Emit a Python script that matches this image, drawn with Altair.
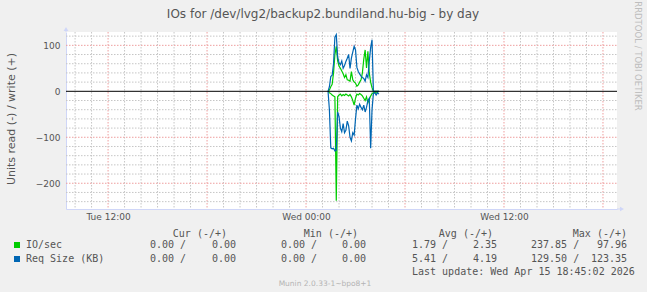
import altair as alt
import pandas as pd

# ---------------- data ----------------
times = ["01:20", "01:25", "01:30", "01:35", "01:40", "01:45", "01:50", "01:55",
         "02:00", "02:05", "02:10", "02:15", "02:20", "02:25", "02:30", "02:35",
         "02:40", "02:45", "02:50", "02:55", "03:00", "03:05", "03:10", "03:15",
         "03:20", "03:25", "03:30", "03:35", "03:40", "03:45", "03:50", "03:55",
         "04:00", "04:05", "04:10", "04:15", "04:20", "04:25"]
day = "2026-04-15"

io_write = [0, 3, 10, 15, 40, 80, 97.96, 66, 55, 50, 44, 38, 30, 36, 25, 24,
            22, 43, 25, 20, 18, 11, 14, 20, 25, 40, 70, 90, 51, 87, 40, 20,
            8, 0, 0, 0, 0, 0]
io_read = [0, 3, 5, 8, 10, 12, 237.85, 12, 8, 6, 10, 7, 9, 6, 8, 10,
           7, 12, 20, 30, 15, 6, 8, 5, 7, 10, 15, 20, 12, 25, 18, 10,
           5, 3, 2, 4, 2, 0]
size_write = [0, 10, 32, 35, 60, 118, 123.35, 75, 62, 58, 66, 50, 56, 65, 72, 80,
              50, 72, 85, 98, 90, 52, 43, 38, 33, 30, 28, 22, 36, 30, 65, 95,
              112, 0, 0, 0, 0, 0]
size_read = [0, 40, 123, 125, 124, 129.5, 128, 45, 55, 80, 88, 70, 90, 85, 65, 75,
             100, 108, 90, 95, 60, 30, 38, 28, 35, 40, 30, 45, 35, 20, 15, 124,
             40, 5, 3, 8, 3, 6]

series_names = ["IO/sec", "Req Size (KB)"]
series_colors = ["#00CC00", "#0066B3"]
cur_vals = [["0.00", "0.00"], ["0.00", "0.00"]]
min_vals = [["0.00", "0.00"], ["0.00", "0.00"]]
avg_vals = [["1.79", "2.35"], ["5.41", "4.19"]]
max_vals = [["237.85", "97.96"], ["129.50", "123.35"]]
col_headers = ["Cur (-/+)", "Min (-/+)", "Avg (-/+)", "Max (-/+)"]

y_ticks = [-200, -100, 0, 100]
y_minor_step = 20
y_domain = [-256, 129]
x_ticks = ["2026-04-14T12:00:00Z", "2026-04-15T00:00:00Z", "2026-04-15T12:00:00Z"]
x_domain = ["2026-04-14T09:27:00Z", "2026-04-15T18:51:00Z"]

title = "IOs for /dev/lvg2/backup2.bundiland.hu-big - by day"
y_title = "Units read (-) / write (+)"
last_update = "Last update: Wed Apr 15 18:45:02 2026"
footer = "Munin 2.0.33-1~bpo8+1"
watermark = "RRDTOOL / TOBI OETIKER"

# ---------------- layout ----------------
L, T, W, H = 66, 32, 551, 177
R, B = 647 - L - W, 292 - T - H

def ms(s):
    return int(pd.Timestamp(s).value // 10**6)

MINOR = "#C6C6C6"
MAJOR = "#EE9E9E"
AXISC = "#CFD6F8"
FONT = "#555555"

xs = alt.Scale(type="utc", domain=[ms(d) for d in x_domain])
ys = alt.Scale(domain=y_domain, nice=False, zero=False)
xa = alt.Axis(values=[ms(v) for v in x_ticks],
              labelExpr="utcFormat(datum.value, '%a %H:%M')",
              ticks=False, grid=False, domain=True, domainColor=AXISC,
              labelFont="DejaVu Sans", labelFontSize=9, labelColor=FONT,
              labelPadding=3, title=None, labelFlush=False)
ya = alt.Axis(values=y_ticks, ticks=False, grid=False, domain=True,
              domainColor=AXISC, labelFont="DejaVu Sans", labelFontSize=9,
              labelColor=FONT, labelPadding=6, title=None)

rows = []
for i, t in enumerate(times):
    ts = f"{day}T{t}:00Z"
    rows.append({"t": ts, "v": io_write[i], "k": "io_w", "g": 0})
    rows.append({"t": ts, "v": -io_read[i], "k": "io_r", "g": 0})
    rows.append({"t": ts, "v": size_write[i], "k": "sz_w", "g": 1})
    rows.append({"t": ts, "v": -size_read[i], "k": "sz_r", "g": 1})
df = pd.DataFrame(rows)

hours = pd.date_range("2026-04-14T10:00Z", "2026-04-15T18:00Z", freq="h")
grid_x = pd.DataFrame({"t": [h.strftime("%Y-%m-%dT%H:%M:%SZ") for h in hours],
                       "major": [h.hour % 6 == 0 for h in hours]})
yv = list(range(-240, 121, y_minor_step))
grid_y = pd.DataFrame({"v": yv, "major": [(v % 100 == 0) for v in yv]})
grid_y = grid_y[grid_y.v != 0]

X = lambda: alt.X("t:T", scale=xs, axis=xa)
Y = lambda: alt.Y("v:Q", scale=ys, axis=ya)

minor_x = alt.Chart(grid_x[~grid_x.major]).mark_rule(
    color=MINOR, strokeWidth=1, strokeDash=[1.5, 1.5]).encode(
    x=X(), y=alt.value(0), y2=alt.value(H))
major_x = alt.Chart(grid_x[grid_x.major]).mark_rule(
    color=MAJOR, strokeWidth=1, strokeDash=[1.5, 1.5]).encode(
    x=X(), y=alt.value(0), y2=alt.value(H))
minor_y = alt.Chart(grid_y[~grid_y.major]).mark_rule(
    color=MINOR, strokeWidth=1, strokeDash=[1.5, 1.5]).encode(
    y=Y(), x=alt.value(0), x2=alt.value(W))
major_y = alt.Chart(grid_y[grid_y.major]).mark_rule(
    color=MAJOR, strokeWidth=1, strokeDash=[1.5, 1.5]).encode(
    y=Y(), x=alt.value(0), x2=alt.value(W))

def series_layer(g):
    return alt.Chart(df[df.g == g]).mark_line(
        strokeWidth=1.2, color=series_colors[g]).encode(
        x=X(), y=Y(), detail="k:N")

zero = alt.Chart(alt.Data(values=[{"v": 0}])).mark_rule(
    color="black", strokeWidth=1).encode(
    y=Y(), x=alt.value(0), x2=alt.value(W))

def txt(s, px, py, align="left", size=10, font="DejaVu Sans Mono",
        color=FONT, angle=0):
    return alt.Chart(alt.Data(values=[{}])).mark_text(
        text=s, align=align, baseline="middle", font=font, fontSize=size,
        color=color, angle=angle).encode(
        x=alt.value(px - L), y=alt.value(py - T))

def square(color, px, py):
    return alt.Chart(alt.Data(values=[{}])).mark_square(
        size=36, color=color, opacity=1, filled=True).encode(
        x=alt.value(px - L), y=alt.value(py - T))

arrow_up = alt.Chart(alt.Data(values=[{}])).mark_point(
    shape="triangle-up", size=22, filled=True, color=AXISC, opacity=1).encode(
    x=alt.value(0), y=alt.value(-3))
arrow_right = alt.Chart(alt.Data(values=[{}])).mark_point(
    shape="triangle-right", size=22, filled=True, color=AXISC, opacity=1).encode(
    x=alt.value(W + 5), y=alt.value(H))
ext_up = alt.Chart(alt.Data(values=[{}])).mark_rule(color=AXISC).encode(
    x=alt.value(0), y=alt.value(-3), y2=alt.value(0))
ext_right = alt.Chart(alt.Data(values=[{}])).mark_rule(color=AXISC).encode(
    x=alt.value(W), x2=alt.value(W + 5), y=alt.value(H))

texts = [
    txt(title, 323, 14, align="center", size=12, font="DejaVu Sans"),
    txt(y_title, 12, 119, align="center", size=11, font="DejaVu Sans", angle=270),
    txt(watermark, 638, 56, align="center", size=8.5, font="DejaVu Sans",
        color="#BDBDBD", angle=90),
    txt(footer, 325, 284, align="center", size=7.5, font="DejaVu Sans",
        color="#B4B4B4"),
    txt(last_update, 412, 272),
]
header_right = [227, 358, 493, 627]
for h, xr in zip(col_headers, header_right):
    texts.append(txt(h, xr, 234, align="right"))

row_y = [245, 259]
pair_left = [150, 281, 412, 531]
pair_right = [236, 366, 497, 627]
for r in range(2):
    yy = row_y[r]
    texts.append(square(series_colors[r], 17, yy))
    texts.append(txt(series_names[r], 26, yy))
    for c, vals in enumerate([cur_vals, min_vals, avg_vals, max_vals]):
        texts.append(txt(vals[r][0] + " /", pair_left[c], yy))
        texts.append(txt(vals[r][1], pair_right[c], yy, align="right"))

chart = alt.layer(
    minor_x, major_x, minor_y, major_y,
    series_layer(0), series_layer(1),
    zero, ext_up, ext_right, arrow_up, arrow_right,
    *texts
).properties(
    width=W, height=H,
    autosize=alt.AutoSizeParams(type="none"),
    padding={"left": L, "top": T, "right": R, "bottom": B},
    background="#F0F0F0",
).configure_view(
    fill="white", stroke=None
)

chart.save("out.html", embed_options={"renderer": "svg", "actions": False})
